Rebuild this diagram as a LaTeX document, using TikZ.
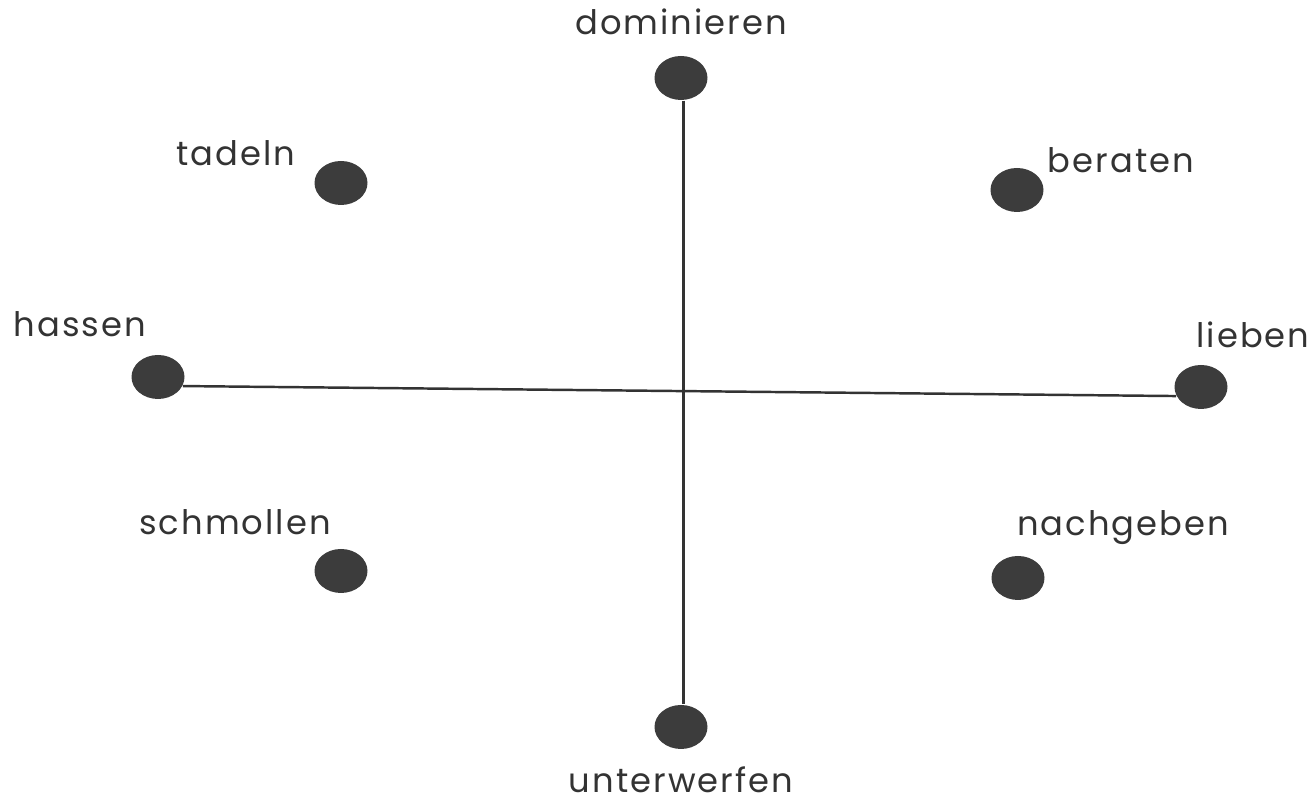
\documentclass[tikz,border=0pt]{standalone}
\usepackage{fontspec}
\setmainfont[LetterSpace=6]{Poppins}
\usetikzlibrary{positioning,shapes.geometric}
\definecolor{DotGray}{HTML}{3C3C3C}
\definecolor{InkGray}{HTML}{333333}
\tikzset{
  kDot/.style={
    ellipse,
    fill=DotGray,
    draw=none,
    minimum width=0.53cm,
    minimum height=0.44cm,
    inner sep=0pt
  },
  kLabel/.style={
    font=\fontsize{9.6pt}{11pt}\selectfont,
    text=InkGray,
    inner sep=1pt
  },
  kAxis/.style={
    line width=0.7pt,
    color=InkGray
  }
}
\begin{document}
\begin{tikzpicture}[x=1cm,y=-1cm]
    \useasboundingbox (0,0) rectangle (13.15,8.01);

    % Punkte
    \node (dom)  [kDot] at (6.81,0.78) {};
    \node (unt)  [kDot] at (6.81,7.27) {};
    \node (has)  [kDot] at (1.58,3.77) {};
    \node (lie)  [kDot] at (12.01,3.87) {};
    \node (tad)  [kDot] at (3.41,1.83) {};
    \node (ber)  [kDot] at (10.17,1.90) {};
    \node (sch)  [kDot] at (3.41,5.71) {};
    \node (nac)  [kDot] at (10.18,5.78) {};

    % Achsen
    \draw [kAxis] (dom.-84) -- (unt.84);
    \draw [kAxis] (has.-20) -- (lie.-160);

    % Beschriftungen
    \node (dom_l) [kLabel] at (6.81,0.22) {dominieren};
    \node (unt_l) [kLabel] at (6.81,7.80) {unterwerfen};
    \node (has_l) [kLabel] at (0.80,3.24) {hassen};
    \node (lie_l) [kLabel] at (12.53,3.35) {lieben};
    \node (tad_l) [kLabel] at (2.36,1.53) {tadeln};
    \node (ber_l) [kLabel] at (11.21,1.60) {beraten};
    \node (sch_l) [kLabel] at (2.35,5.22) {schmollen};
    \node (nac_l) [kLabel] at (11.23,5.28) {nachgeben};
\end{tikzpicture}
\end{document}
